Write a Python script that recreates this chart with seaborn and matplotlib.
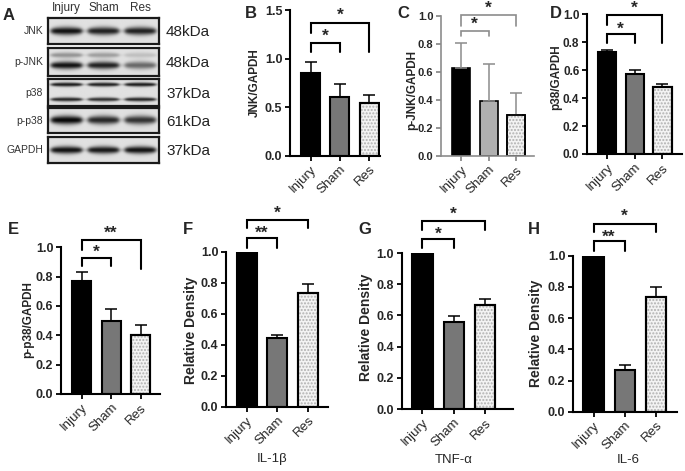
import numpy as np
import pandas as pd
import matplotlib
matplotlib.use("Agg")
import matplotlib.pyplot as plt
import seaborn as sns

sns.set_style("ticks")
plt.rcParams['font.family'] = ['Liberation Sans', 'DejaVu Sans']

# ---- data ----
groups = ['Injury', 'Sham', 'Res']

jnk = [0.85, 0.61, 0.54]
jnk_err = [0.12, 0.13, 0.09]
pjnk = [0.63, 0.39, 0.29]
pjnk_err = [0.18, 0.27, 0.16]
p38 = [0.73, 0.57, 0.48]
p38_err = [0.015, 0.03, 0.02]
pp38 = [0.77, 0.50, 0.40]
pp38_err = [0.06, 0.08, 0.07]
il1b = [1.0, 0.44, 0.73]
il1b_err = [0.0, 0.02, 0.06]
tnfa = [1.0, 0.555, 0.665]
tnfa_err = [0.0, 0.04, 0.04]
il6 = [1.0, 0.27, 0.735]
il6_err = [0.0, 0.03, 0.065]

# western blot (panel A): rows, kDa, band rel. position, band half-height, lane intensities
blot_rows = ['JNK', 'p-JNK', 'p38', 'p-p38', 'GAPDH']
blot_kda = ['48kDa', '48kDa', '37kDa', '61kDa', '37kDa']
blot_bands = {
    'JNK':   [(0.50, 0.16, [0.95, 0.88, 0.88])],
    'p-JNK': [(0.25, 0.10, [0.35, 0.30, 0.15]), (0.62, 0.14, [0.95, 0.88, 0.55])],
    'p38':   [(0.20, 0.08, [0.90, 0.88, 0.90]), (0.76, 0.08, [0.85, 0.80, 0.85])],
    'p-p38': [(0.48, 0.18, [1.00, 0.85, 0.80])],
    'GAPDH': [(0.50, 0.15, [0.95, 0.92, 0.95])],
}

# significance brackets: (i, j, top, left drop, right drop, label, label y)
sig_B = [(0, 1, 1.16, 1.07, 1.07, '*', 1.23), (0, 2, 1.37, 1.27, 1.07, '*', 1.45)]
sig_C = [(0, 1, 0.893, 0.857, 0.857, '*', 0.94), (0, 2, 1.007, 0.93, 0.93, '*', 1.055)]
sig_D = [(0, 1, 0.857, 0.797, 0.797, '*', 0.895), (0, 2, 0.995, 0.923, 0.797, '*', 1.045)]
sig_E = [(0, 1, 0.93, 0.875, 0.875, '*', 0.965), (0, 2, 1.048, 0.982, 0.852, '**', 1.095)]
sig_F = [(0, 1, 1.087, 1.025, 1.025, '**', 1.115), (0, 2, 1.204, 1.15, 1.15, '*', 1.245)]
sig_G = [(0, 1, 1.09, 1.03, 1.03, '*', 1.12), (0, 2, 1.205, 1.147, 1.147, '*', 1.25)]
sig_H = [(0, 1, 1.094, 1.03, 1.03, '**', 1.12), (0, 2, 1.201, 1.154, 1.154, '*', 1.255)]

W, H = 685, 471
fig = plt.figure(figsize=(W / 100, H / 100), dpi=100)


def px_axes(x0, x1, ybot, ytop):
    return fig.add_axes([x0 / W, 1 - ybot / H, (x1 - x0) / W, (ybot - ytop) / H])


# ---------------- panel A: blot ----------------
blot_left, blot_right = 48, 159
row_px = [(18, 44), (48, 76), (79, 106), (108, 133), (137, 163)]
nx = 220
xs = np.linspace(0, 1, nx)
lane_c = [1 / 6, 3 / 6, 5 / 6]
for name, kda, (yt, yb) in zip(blot_rows, blot_kda, row_px):
    ax = px_axes(blot_left, blot_right, yb, yt)
    ny = 60
    ys = np.linspace(0, 1, ny)[:, None]
    img = np.full((ny, nx), 0.88)
    for pos, wid, inten in blot_bands[name]:
        for c, a in zip(lane_c, inten):
            hprof = 1 / (1 + np.exp((np.abs(xs - c) - 0.14) / 0.012))
            # bands get a little thinner toward the lane edges
            thick = wid * (1 - 0.35 * ((xs - c) / 0.15) ** 2)
            thick = np.clip(thick, wid * 0.3, None)
            vprof = np.exp(-((ys - pos) / thick[None, :]) ** 2)
            img -= 0.85 * a * hprof[None, :] * vprof
    ax.imshow(np.clip(img, 0, 1), cmap='gray', vmin=0, vmax=1, aspect='auto',
              extent=(0, 1, 1, 0))
    ax.set_xticks([])
    ax.set_yticks([])
    for s in ax.spines.values():
        s.set_linewidth(1.6)
        s.set_color('#1a1a1a')
    fig.text(43 / W, 1 - (yt + yb) / 2 / H, name, ha='right', va='center',
             fontsize=7.5, color='#333333')
    fig.text(166 / W, 1 - ((yt + yb) / 2 + 1) / H, kda, ha='left', va='center',
             fontsize=11, color='#222222')
for c, g in zip(lane_c, groups):
    fig.text((blot_left + c * (blot_right - blot_left)) / W, 1 - 8 / H, g,
             ha='center', va='center', fontsize=8.5, color='#333333')


# ---------------- bar panels ----------------
def bar_panel(box, xlim, ylim, yticks, vals, errs, sigs, ylabel, ylab_xy,
              sham_color='#777777', spine_color='black', lw=1.5, xlabel=None,
              xlab_xy=None, ylab_size=8.5, ytick_size=9):
    x0, x1, ybot, ytop = box
    ax = px_axes(x0, x1, ybot, ytop)
    df = pd.DataFrame({'group': groups, 'value': vals})
    sns.barplot(data=df, x='group', y='value', hue='group',
                palette=['black', sham_color, '#f3f3f3'], width=0.65,
                edgecolor='black', linewidth=lw, legend=False, ax=ax,
                errorbar=None)
    # dotted fill for Res bar
    res = ax.patches[2]
    ax.bar(2, vals[2], width=res.get_width(), color='none', edgecolor='#b0b0b0',
           hatch='.....', linewidth=0, zorder=res.get_zorder() + 0.1)
    ax.bar(2, vals[2], width=res.get_width(), fill=False, edgecolor='black',
           linewidth=lw, zorder=res.get_zorder() + 0.2)
    line_c = spine_color
    for i, (v, e) in enumerate(zip(vals, errs)):
        if e > 0:
            ax.errorbar(i, v, yerr=[[0], [e]], fmt='none', ecolor=line_c,
                        elinewidth=1.1, capsize=4, capthick=1.1, zorder=1)
    for i, j, top, d1, d2, lab, ty in sigs:
        ax.plot([i, i, j, j], [d1, top, top, d2], color=line_c,
                lw=lw if spine_color == 'black' else 1.2, clip_on=False,
                solid_joinstyle='miter')
        ax.text((i + j) / 2, ty, lab, ha='center', va='center', fontsize=12.5,
                fontweight='bold', clip_on=False)
    ax.set_xlim(*xlim)
    ax.set_ylim(*ylim)
    ax.set_yticks(yticks)
    ax.set_yticklabels([f'{t:.1f}' for t in yticks], fontweight='bold',
                       fontsize=ytick_size)
    ax.set_xlabel('')
    ax.set_ylabel('')
    ax.set_xticks(range(3))
    ax.set_xticklabels(groups, rotation=45, ha='right', rotation_mode='anchor',
                       fontsize=9.5)
    ax.tick_params(axis='both', direction='out', length=3.5, width=1.3,
                   color=spine_color, pad=2)
    sns.despine(ax=ax)
    for s in ['left', 'bottom']:
        ax.spines[s].set_linewidth(lw)
        ax.spines[s].set_color(spine_color)
    fig.text(ylab_xy[0] / W, 1 - ylab_xy[1] / H, ylabel, rotation=90, ha='center',
             va='center', fontsize=ylab_size, fontweight='bold')
    if xlabel:
        fig.text(xlab_xy[0] / W, 1 - xlab_xy[1] / H, xlabel, ha='center',
                 va='center', fontsize=9.5)
    return ax


ticks01 = [0.0, 0.2, 0.4, 0.6, 0.8, 1.0]
bar_panel((290, 380, 155.7, 10.3), (-0.70, 2.37), (0, 1.5), [0.0, 0.5, 1.0, 1.5],
          jnk, jnk_err, sig_B, 'JNK/GAPDH', (255, 83))
bar_panel((441, 534, 156, 16), (-0.72, 2.64), (0, 1.0), ticks01,
          pjnk, pjnk_err, sig_C, 'p-JNK/GAPDH', (412, 90),
          sham_color='#b0b0b0', spine_color='#8c8c8c', lw=1.2, ytick_size=8)
bar_panel((587, 682, 154, 14.3), (-0.71, 2.70), (0, 1.0), ticks01,
          p38, p38_err, sig_D, 'p38/GAPDH', (556, 77), ytick_size=8.5)
bar_panel((61, 160, 394, 247.3), (-0.70, 2.66), (0, 1.0), ticks01,
          pp38, pp38_err, sig_E, 'p-p38/GAPDH', (28, 320))
bar_panel((226, 328, 406.7, 251.5), (-0.67, 2.65), (0, 1.0), ticks01,
          il1b, il1b_err, sig_F, 'Relative Density', (191, 330),
          xlabel='IL-1β', xlab_xy=(272, 459), ylab_size=10)
bar_panel((401.5, 513, 409, 253), (-0.67, 2.90), (0, 1.0), ticks01,
          tnfa, tnfa_err, sig_G, 'Relative Density', (366, 327),
          xlabel='TNF-α', xlab_xy=(454, 460), ylab_size=10)
bar_panel((573, 677, 411.7, 255.7), (-0.66, 2.68), (0, 1.0), ticks01,
          il6, il6_err, sig_H, 'Relative Density', (536, 333),
          xlabel='IL-6', xlab_xy=(628, 460), ylab_size=10)

# panel letters
for lab, (x, y) in zip('ABCDEFGH', [(3, 15), (245, 13), (397, 13), (550, 13),
                                    (8, 230), (183, 230), (358, 229), (528, 229)]):
    fig.text(x / W, 1 - y / H, lab, ha='left', va='center', fontsize=12,
             fontweight='bold')

fig.savefig('out.png', dpi=100)
